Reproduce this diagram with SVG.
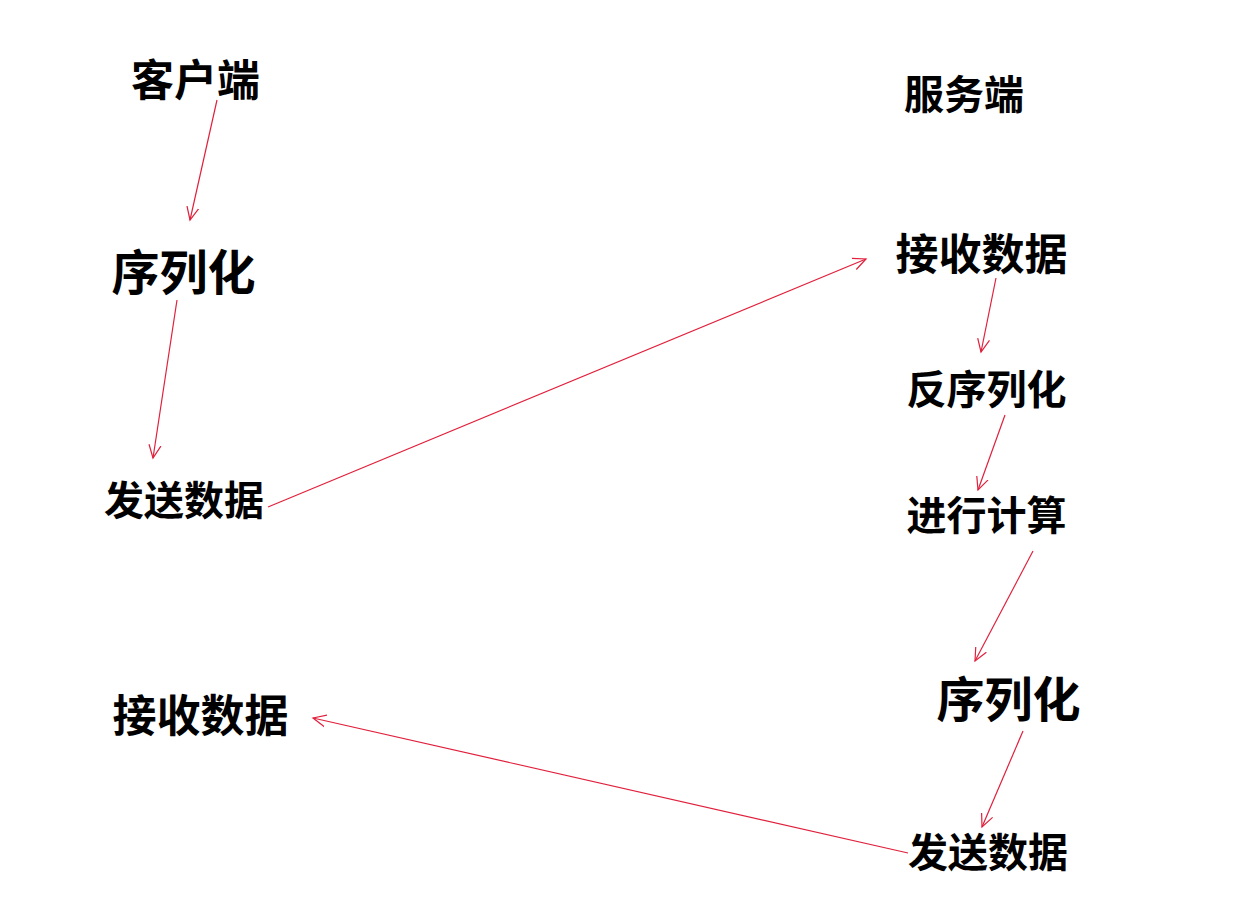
<svg xmlns="http://www.w3.org/2000/svg" width="1251" height="915" viewBox="0 0 1251 915">
<style>
text{font-family:"Noto Sans CJK SC","Microsoft YaHei",sans-serif;font-weight:bold;fill:#000;text-anchor:middle;dominant-baseline:central}
.c line{stroke:#e0203c;stroke-width:1.2;fill:none;marker-end:url(#ah)}
</style>
<defs>
<marker id="ah" markerUnits="userSpaceOnUse" markerWidth="16" markerHeight="16" refX="13" refY="6" orient="auto" viewBox="0 0 16 12">
<path d="M0,0 L13,6 L0,12" fill="none" stroke="#e0203c" stroke-width="1.2"/>
</marker>
</defs>
<rect width="1251" height="915" fill="#fff"/>
<g id="client"><text x="195.5" y="77" font-size="43">客户端</text></g>
<g id="c_serialize"><text x="183.5" y="269" font-size="48">序列化</text></g>
<g id="c_send"><text x="184" y="498" font-size="40">发送数据</text></g>
<g id="c_recv"><text x="200.5" y="713" font-size="44">接收数据</text></g>
<g id="server"><text x="964" y="92" font-size="40">服务端</text></g>
<g id="s_recv"><text x="981.5" y="251" font-size="43">接收数据</text></g>
<g id="s_deserialize"><text x="986.5" y="387" font-size="40">反序列化</text></g>
<g id="s_compute"><text x="986.5" y="513" font-size="40">进行计算</text></g>
<g id="s_serialize"><text x="1008.5" y="696" font-size="48">序列化</text></g>
<g id="s_send"><text x="988" y="850" font-size="40">发送数据</text></g>
<g id="connectors" class="c">
<line x1="217" y1="100" x2="190" y2="220"/>
<line x1="177" y1="300" x2="153" y2="458"/>
<line x1="268" y1="507" x2="866" y2="259"/>
<line x1="996" y1="278" x2="981" y2="352"/>
<line x1="1005" y1="415" x2="978" y2="490"/>
<line x1="1033" y1="551" x2="975" y2="661"/>
<line x1="1023" y1="731" x2="982" y2="827"/>
<line x1="908" y1="853" x2="313" y2="718"/>
</g>
</svg>
